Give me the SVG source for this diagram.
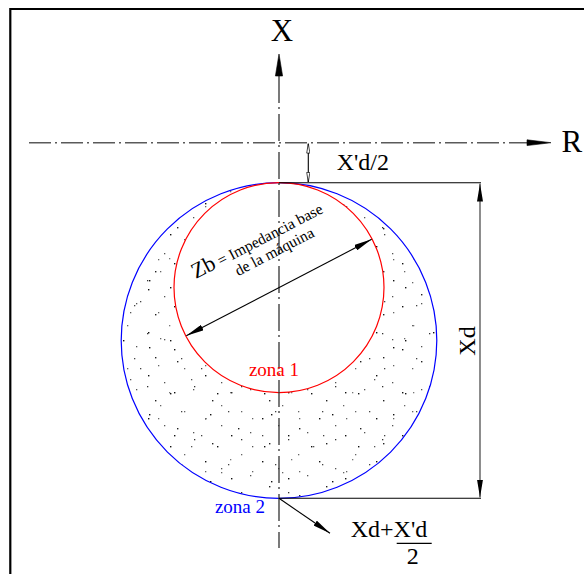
<svg xmlns="http://www.w3.org/2000/svg" width="584" height="574" viewBox="0 0 584 574">
<style>
text{font-family:"Liberation Serif","Times New Roman",serif;fill:#000}
.ax{fill:none;stroke:#5a5a5a;stroke-width:1.6}
.dim{fill:none;stroke:#000;stroke-width:1.1}
.dimg{fill:none;stroke:#707070;stroke-width:1.6}
.ah{fill:#000;stroke:#000;stroke-width:0.6}
.st{fill-rule:evenodd}
</style>
<defs>
<marker id="af" viewBox="0 0 18 6" markerWidth="18" markerHeight="6" refX="18" refY="3" markerUnits="userSpaceOnUse" orient="auto-start-reverse">
<path d="M0,0 L18,3 L0,6 Z" fill="#000"/>
</marker>
<marker id="ao" viewBox="0 0 10 4" markerWidth="10" markerHeight="4" refX="10" refY="2" markerUnits="userSpaceOnUse" orient="auto-start-reverse">
<path d="M0.4,0.4 L10,2 L0.4,3.6 Z" fill="#fff" stroke="#000" stroke-width="0.7"/>
</marker>
<pattern id="p1" width="57" height="43" patternUnits="userSpaceOnUse">
<rect x="3" y="5" width="1.4" height="1.4" fill="#111"/>
<rect x="22" y="2" width="1.3" height="1.3" fill="#555"/>
<rect x="41" y="13" width="1.4" height="1.4" fill="#222"/>
<rect x="13" y="24" width="1.3" height="1.3" fill="#666"/>
<rect x="34" y="31" width="1.4" height="1.4" fill="#111"/>
<rect x="50" y="38" width="1.3" height="1.3" fill="#555"/>
</pattern>
<pattern id="p2" width="61" height="67" patternUnits="userSpaceOnUse">
<rect x="8" y="44" width="1.3" height="1.3" fill="#555"/>
<rect x="27" y="12" width="1.4" height="1.4" fill="#111"/>
<rect x="47" y="57" width="1.3" height="1.3" fill="#777"/>
<rect x="55" y="26" width="1.4" height="1.4" fill="#222"/>
<rect x="18" y="33" width="1.3" height="1.3" fill="#444"/>
<rect x="38" y="3" width="1.3" height="1.3" fill="#666"/>
</pattern>
<pattern id="p3" width="47" height="53" patternUnits="userSpaceOnUse">
<rect x="6" y="15" width="1.3" height="1.3" fill="#333"/>
<rect x="29" y="22" width="1.4" height="1.4" fill="#111"/>
<rect x="17" y="47" width="1.3" height="1.3" fill="#666"/>
<rect x="40" y="40" width="1.3" height="1.3" fill="#444"/>
</pattern>
<path id="crescent" d="M121.2,340.5 A157.8,157.8 0 1,0 436.8,340.5 A157.8,157.8 0 1,0 121.2,340.5 Z M174,287.6 A105,105 0 1,0 384,287.6 A105,105 0 1,0 174,287.6 Z"/>
</defs>

<rect width="584" height="574" fill="#fff"/>
<path d="M10.3,574 V9 H584" fill="none" stroke="#000" stroke-width="2.2"/>

<g id="zona2-fill">
<use href="#crescent" class="st" fill="url(#p1)"/>
<use href="#crescent" class="st" fill="url(#p2)"/>
<use href="#crescent" class="st" fill="url(#p3)"/>
</g>

<g id="circle-zona2">
<circle cx="279" cy="340.5" r="157.8" fill="none" stroke="#0000ff" stroke-width="1.2"/>
</g>
<g id="circle-zona1">
<circle cx="279" cy="287.6" r="105" fill="none" stroke="#ff0000" stroke-width="1.2"/>
</g>

<g id="axis-x">
<line x1="279" y1="76" x2="279" y2="548" fill="none" stroke="#333" stroke-width="1.3" stroke-dasharray="27 4 2 5"/>
<polygon class="ah" points="279,54 282.6,76 275.4,76"/>
<text x="282" y="40.7" font-size="31" text-anchor="middle">X</text>
</g>

<g id="axis-r">
<line class="ax" x1="29" y1="142.7" x2="528" y2="142.7" stroke-dasharray="22 4 2 4"/>
<polygon class="ah" points="551,142.7 527,139.8 527,145.6"/>
<text x="561.5" y="152.3" font-size="31">R</text>
</g>

<g id="connectors">
<line class="dim" x1="279" y1="182.7" x2="481" y2="182.7"/>
<line class="dim" x1="279" y1="498.3" x2="481" y2="498.3"/>
<line class="dim" x1="308.3" y1="143.5" x2="308.3" y2="182" marker-start="url(#ao)" marker-end="url(#ao)"/>
<line class="dimg" x1="480" y1="183.5" x2="480" y2="497.5" marker-start="url(#af)" marker-end="url(#af)"/>
<line class="dim" x1="279" y1="498.3" x2="330" y2="533.3" marker-end="url(#af)"/>
<g transform="translate(279,287.6) rotate(-27.5)">
<line class="dim" x1="-104.5" y1="0" x2="104.5" y2="0" marker-start="url(#af)" marker-end="url(#af)"/>
</g>
</g>

<g id="label-zb" transform="translate(279,287.6) rotate(-27.5)">
<text x="-70" y="-46"><tspan font-size="22">Zb</tspan><tspan font-size="15.5"> = Impedancia base</tspan></text>
<text x="12.5" y="-29" font-size="15.5" text-anchor="middle">de la máquina</text>
</g>

<g id="label-xd2">
<text x="336.7" y="170" font-size="24">X'd/2</text>
</g>
<g id="label-xd">
<text transform="translate(474.5,341) rotate(-90)" font-size="24" text-anchor="middle">Xd</text>
</g>
<g id="label-zona1">
<text x="274" y="376" font-size="19" text-anchor="middle" style="fill:#ff0000">zona 1</text>
</g>
<g id="label-zona2">
<text x="240" y="513.3" font-size="19" text-anchor="middle" style="fill:#0000ff">zona 2</text>
</g>
<g id="label-formula">
<text x="350.7" y="536.7" font-size="24">Xd+X'd</text>
<line x1="396.7" y1="543.3" x2="431.7" y2="543.3" stroke="#000" stroke-width="1.3"/>
<text x="412.7" y="564" font-size="24" text-anchor="middle">2</text>
</g>
</svg>
